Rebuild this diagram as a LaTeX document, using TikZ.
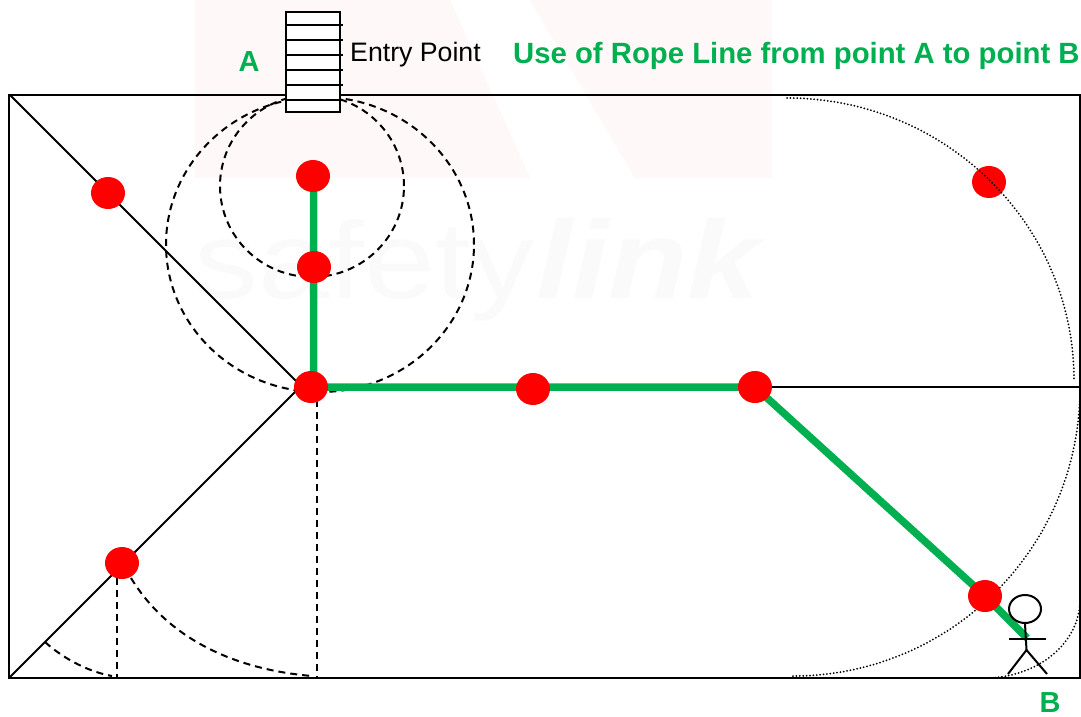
\documentclass[tikz,border=0pt]{standalone}
\usepackage{fontspec}
\setmainfont{Liberation Sans}
\usetikzlibrary{shapes.geometric}
\definecolor{ropegreen}{HTML}{00B050}
\definecolor{wmpink}{HTML}{FFF8F8}
\definecolor{wmgrey}{HTML}{FAFAFA}
\tikzset{
  redpt/.style={ellipse,fill=red,draw=none,minimum width=34pt,minimum height=32pt,inner sep=0pt},
  rope/.style={draw=ropegreen,line width=7.5pt},
  thin line/.style={draw=black,line width=2pt},
  dash line/.style={draw=black,line width=2pt,dash pattern=on 7pt off 5pt},
  dot line/.style={draw=black,line width=2pt,line cap=round,dash pattern=on 0pt off 3.4pt},
  greenlabel/.style={text=ropegreen,font=\bfseries,inner sep=0pt},
  wm/.style={text=wmgrey,inner sep=0pt,anchor=base west,xscale=1.17,transform shape}
}
\begin{document}
\begin{tikzpicture}[x=1pt,y=-1pt]
\useasboundingbox (0,0) rectangle (1081,716);
\fill[white] (0,0) rectangle (1081,716);
% watermark
\fill[wmpink] (195,0) -- (450,0) -- (530,178) -- (195,178) -- cycle;
\fill[wmpink] (530,0) -- (772,0) -- (772,178) -- (635,178) -- cycle;
\node[wm,font=\fontsize{109}{109}\selectfont] (wmA) at (194,298) {safety};
\node[wm,font=\bfseries\itshape\fontsize{111}{111}\selectfont] (wmB) at (536,298) {link};
% frame
\node[draw=black,line width=2pt,minimum width=1071pt,minimum height=583pt,inner sep=0pt] (frame) at (544.5,386) {};
\coordinate (tl) at (9.5,94.5);
\coordinate (bl) at (9.5,677.5);
\coordinate (rm) at (1080,387);
\coordinate (apexa) at (302,387);
\coordinate (apexb) at (300,387);
\draw[thin line] (tl) -- (apexa);
\draw[thin line] (bl) -- (apexb);
\coordinate (c755) at (755,387);
\draw[thin line] (c755) -- (rm);
% dashed
\draw[dash line] (320,244.5) ellipse (154pt and 147.5pt);
\draw[dash line] (312,186) ellipse (92pt and 91pt);
\coordinate (v1a) at (117,578); \coordinate (v1b) at (117,677);
\coordinate (v2a) at (317,400); \coordinate (v2b) at (317,677);
\draw[dash line] (v1a) -- (v1b);
\draw[dash line] (v2a) -- (v2b);
\draw[dash line] (131,578) .. controls (170,642) and (240,670) .. (312,676);
\draw[dash line] (45,642) .. controls (65,660) and (90,672) .. (112,676);
% ladder
\node[draw=black,fill=white,line width=2pt,minimum width=54.5pt,minimum height=100pt,inner sep=0pt] (ladder) at (313,62) {};
\foreach \y in {24.5,40,55,70,85,99.5} \draw[black,line width=2pt] (285.5,\y) -- (342.5,\y);
% red points
\node[redpt] (p7) at (108,193) {};
\node[redpt] (p8) at (122,563) {};
\node[redpt] (p9) at (989,182) {};
% dotted
\draw[dot line] (787,98) arc[start angle=90,end angle=0,x radius=287pt,y radius=282pt];
\draw[dot line] (793,676) arc[start angle=-90,end angle=0,x radius=287pt,y radius=288pt];
\draw[dot line] (985,678) arc[start angle=-90,end angle=0,x radius=95pt,y radius=78pt];
% rope
\coordinate (ropeend) at (1027,638);
\coordinate (rtop) at (313.5,176);
\coordinate (rhub) at (313.5,387);
\coordinate (r755) at (755,387);
\coordinate (r985) at (985,596);
\draw[rope] (rtop) -- (rhub) -- (r755) -- (r985) -- (ropeend);
\node[redpt] (p1) at (313,176) {};
\node[redpt] (p2) at (314,267) {};
\node[redpt] (p3) at (311,387) {};
\node[redpt] (p4) at (533,389) {};
\node[redpt] (p5) at (755,387) {};
\node[redpt] (p6) at (985,596) {};
% figure
\node[draw=black,ellipse,line width=2pt,minimum width=32pt,minimum height=28pt,inner sep=0pt] (head) at (1025,609) {};
\coordinate (hip) at (1026.5,650);
\draw[black,line width=2pt] (head.south) -- (hip);
\coordinate (arml) at (1009,639); \coordinate (armr) at (1046,639);
\coordinate (legl) at (1008,674); \coordinate (legr) at (1047,674);
\draw[black,line width=2pt] (arml) -- (armr);
\draw[black,line width=2pt] (legl) -- (hip) -- (legr);
% text
\node[anchor=west,inner sep=0pt,font=\fontsize{26.7}{30}\selectfont] (entry) at (350,54.5) {Entry Point};
\node[greenlabel,anchor=west,font=\bfseries\fontsize{29.3}{30}\selectfont] (title) at (513,56) {Use of Rope Line from point A to point B};
\node[greenlabel,font=\bfseries\fontsize{29}{30}\selectfont] (A) at (249,62) {A};
\node[greenlabel,font=\bfseries\fontsize{29}{30}\selectfont] (B) at (1050,703) {B};
\end{tikzpicture}
\end{document}
